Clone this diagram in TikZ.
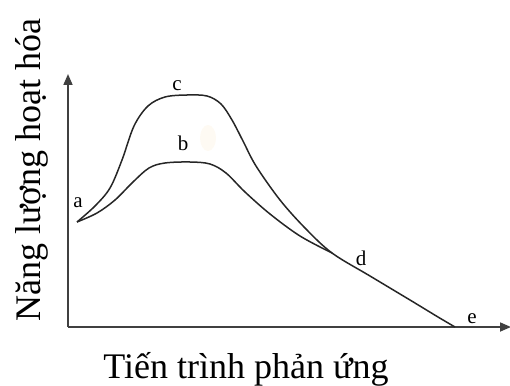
\documentclass[tikz,border=0pt]{standalone}
\usepackage{fontspec}
\setmainfont{Liberation Serif}
\usetikzlibrary{arrows.meta}
\begin{document}
\begin{tikzpicture}[x=1pt,y=-1pt,
  axis/.style={line width=1.7pt, draw=black!75, -{Triangle[length=11pt,width=9pt]}},
  curve/.style={line width=1.5pt, draw=black!85},
  lbl/.style={font=\fontsize{21}{21}\selectfont, inner sep=0pt},
  title/.style={font=\fontsize{36}{36}\selectfont, inner sep=0pt}]
\useasboundingbox (0,0) rectangle (510,385);
% faint blob
\fill[fill={rgb,255:red,254;green,250;blue,243}] (208,138) ellipse (8pt and 13pt);
% axes
\coordinate (O) at (68,327);
\coordinate (Ytip) at (68,74);
\coordinate (Xtip) at (511,327);
\draw[axis] (O) -- (Ytip);
\draw[axis] (O) -- (Xtip);
% curves
\coordinate (A) at (77,222);
\coordinate (D) at (332,253);
\coordinate (E) at (455,327);
\draw[curve] plot[smooth, tension=0.55] coordinates {(77,222) (95,206) (110,188) (122,160) (134,126) (148,106) (165,97) (187,95) (207,96) (221,104) (232,120) (243,141) (256,166) (280,200) (305,228) (332,253) (370,276) (410,300) (438,317) (455,327)};
\draw[curve] plot[smooth, tension=0.55] coordinates {(77,222) (97,213) (115,200) (133,182) (149,168) (165,163) (190,162) (210,164) (226,173) (245,192) (270,214) (300,236) (332,253)};
% labels
\node[lbl] (la) at (78,203) {a};
\node[lbl] (lb) at (183,143) {b};
\node[lbl] (lc) at (177,86) {c};
\node[lbl] (ld) at (361,258) {d};
\node[lbl] (le) at (472,319) {e};
\node[title, anchor=base] (xl) at (246,378) {Tiến trình phản ứng};
\node[title, anchor=base, rotate=90] (yl) at (40,170) {Năng lượng hoạt hóa};
\end{tikzpicture}
\end{document}
